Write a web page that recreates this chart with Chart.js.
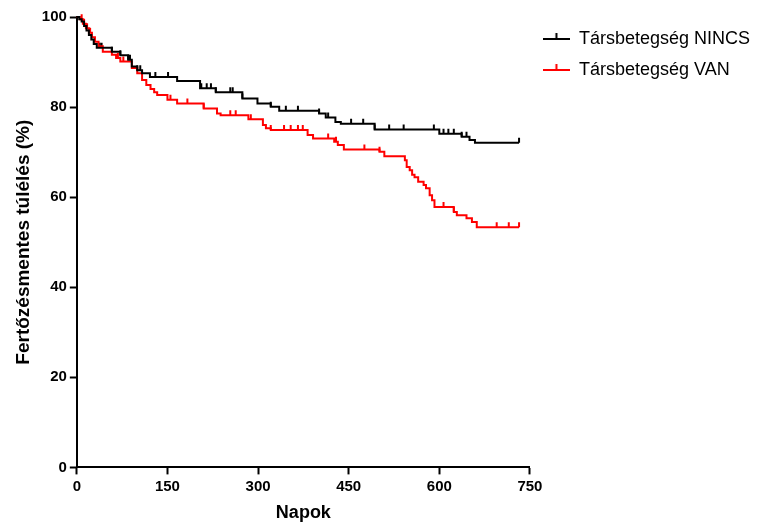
<!DOCTYPE html>
<html>
<head>
<meta charset="utf-8">
<script src="https://cdn.jsdelivr.net/npm/chart.js@4.4.1/dist/chart.umd.min.js"></script>
<style>
  html, body { margin: 0; padding: 0; background: #fff; }
  canvas { display: block; }
</style>
</head>
<body>
<canvas id="myChart" width="760" height="524"></canvas>
<script>
// Kaplan-Meier steps: day of the drop, survival after it (%)
const nincsDays = [0, 4, 8, 12, 16, 20, 24, 28, 33, 58, 72, 85, 91, 100, 108, 121, 166, 204, 230, 274, 299, 321, 335, 401, 412, 428, 437, 493, 600, 637, 650, 659, 732];
const nincsSurv = [100, 99.5, 99, 98, 97, 96, 95, 94, 93.2, 92.3, 91.5, 90.5, 89, 88.2, 87.5, 86.7, 85.8, 84.2, 83.3, 81.9, 80.8, 80.1, 79.2, 78.6, 77.7, 76.7, 76.3, 75.0, 74.1, 73.4, 72.7, 72.1, 72.1];

const vanDays = [0, 5, 10, 15, 20, 25, 30, 36, 43, 58, 65, 72, 91, 100, 108, 115, 122, 128, 133, 150, 166, 210, 232, 238, 284, 308, 313, 321, 382, 391, 426, 432, 442, 501, 509, 543, 546, 551, 555, 559, 565, 574, 578, 584, 588, 592, 624, 629, 645, 654, 662, 732];
const vanSurv = [100, 99.5, 98.5, 97.5, 96.5, 95.5, 94.5, 93.5, 92.3, 91.6, 90.9, 90.1, 88.7, 87.5, 86, 84.9, 84, 83.3, 82.7, 81.6, 80.8, 79.7, 78.6, 78.2, 77.3, 76, 75.3, 74.9, 73.8, 73.0, 72.3, 71.6, 70.6, 70.1, 69.1, 68.2, 66.7, 66, 65, 64.4, 63.4, 62.7, 62, 60.4, 59.3, 57.8, 56.7, 56, 55.3, 54.5, 53.3, 53.3];

// censored observations (days)
const nincsCensored = [38, 41, 58, 72, 85, 88, 100, 105, 130, 151, 206, 215, 222, 230, 254, 258, 274, 321, 346, 366, 401, 416, 454, 474, 493, 517, 541, 591, 607, 615, 624, 637, 645, 732];
const vanCensored = [8, 12, 17, 22, 68, 77, 155, 183, 210, 254, 263, 288, 321, 343, 354, 366, 374, 416, 429, 476, 501, 607, 624, 695, 715, 732];

const groupLabels = ['Társbetegség NINCS', 'Társbetegség VAN'];
const groupColors = ['#000000', '#ff0000'];

const FONT = 'Arial, "Liberation Sans", sans-serif';

function toPoints(days, surv) {
    return days.map((d, i) => ({ x: d, y: surv[i] }));
}

function valueAt(days, surv, t) {
    let v = surv[0];
    for (let i = 0; i < days.length; i++) {
        if (days[i] <= t) v = surv[i];
    }
    return v;
}

function censorPoints(times, days, surv) {
    return times.map(t => ({ x: t, y: valueAt(days, surv, t) }));
}

// little line-with-tick marker for the legend
function legendMarker(color) {
    const c = document.createElement('canvas');
    c.width = 27;
    c.height = 18;
    const g = c.getContext('2d');
    g.strokeStyle = color;
    g.lineWidth = 2;
    g.beginPath();
    g.moveTo(0, 9);
    g.lineTo(27, 9);
    g.moveTo(13.5, 9);
    g.lineTo(13.5, 3);
    g.stroke();
    return c;
}

const markers = groupColors.map(legendMarker);

const ctx = document.getElementById('myChart').getContext('2d');

const stepStyle = color => ({
    borderColor: color,
    backgroundColor: color,
    borderWidth: 2,
    stepped: true,
    pointRadius: 0,
    fill: false,
    clip: 4
});

const censorStyle = color => ({
    showLine: false,
    pointStyle: 'dash',
    pointRotation: -90,
    pointRadius: 5,
    pointBorderWidth: 2,
    pointBorderColor: color,
    pointBackgroundColor: color,
    borderColor: color,
    clip: 6
});

const myChart = new Chart(ctx, {
    type: 'line',
    data: {
        datasets: [
            Object.assign({ label: groupLabels[0], data: toPoints(nincsDays, nincsSurv) }, stepStyle(groupColors[0])),
            Object.assign({ label: groupLabels[1], data: toPoints(vanDays, vanSurv) }, stepStyle(groupColors[1])),
            Object.assign({ label: 'c0', data: censorPoints(nincsCensored, nincsDays, nincsSurv) }, censorStyle(groupColors[0])),
            Object.assign({ label: 'c1', data: censorPoints(vanCensored, vanDays, vanSurv) }, censorStyle(groupColors[1]))
        ]
    },
    options: {
        responsive: false,
        animation: false,
        devicePixelRatio: 1,
        layout: {
            padding: { top: 17, left: 8, right: 0, bottom: 0 }
        },
        scales: {
            x: {
                type: 'linear',
                min: 0,
                max: 750,
                ticks: {
                    stepSize: 150,
                    color: '#000',
                    padding: 3,
                    font: { family: FONT, size: 15, weight: 'bold' }
                },
                grid: {
                    display: true,
                    drawOnChartArea: false,
                    drawTicks: true,
                    tickLength: 7,
                    tickWidth: 2,
                    tickColor: '#000'
                },
                border: { display: true, color: '#000', width: 2 },
                title: {
                    display: true,
                    text: 'Napok',
                    color: '#000',
                    padding: { top: 4, bottom: 0 },
                    font: { family: FONT, size: 18, weight: 'bold' }
                }
            },
            y: {
                min: 0,
                max: 100,
                ticks: {
                    stepSize: 20,
                    color: '#000',
                    padding: 3,
                    font: { family: FONT, size: 15, weight: 'bold' }
                },
                grid: {
                    display: true,
                    drawOnChartArea: false,
                    drawTicks: true,
                    tickLength: 7,
                    tickWidth: 2,
                    tickColor: '#000'
                },
                border: { display: true, color: '#000', width: 2 },
                title: {
                    display: true,
                    text: 'Fertőzésmentes túlélés (%)',
                    color: '#000',
                    padding: { top: 4, bottom: 4 },
                    font: { family: FONT, size: 19, weight: 'bold' }
                }
            }
        },
        plugins: {
            legend: {
                display: true,
                position: 'right',
                align: 'start',
                maxWidth: 260,
                labels: {
                    usePointStyle: true,
                    pointStyleWidth: 27,
                    padding: 13,
                    color: '#000',
                    font: { family: FONT, size: 18 },
                    generateLabels: function(chart) {
                        return groupLabels.map((t, i) => ({
                            text: t,
                            datasetIndex: i,
                            pointStyle: markers[i],
                            fillStyle: groupColors[i],
                            strokeStyle: groupColors[i],
                            lineWidth: 0,
                            fontColor: '#000',
                            hidden: false
                        }));
                    }
                }
            },
            tooltip: { enabled: false }
        }
    }
});
</script>
</body>
</html>
